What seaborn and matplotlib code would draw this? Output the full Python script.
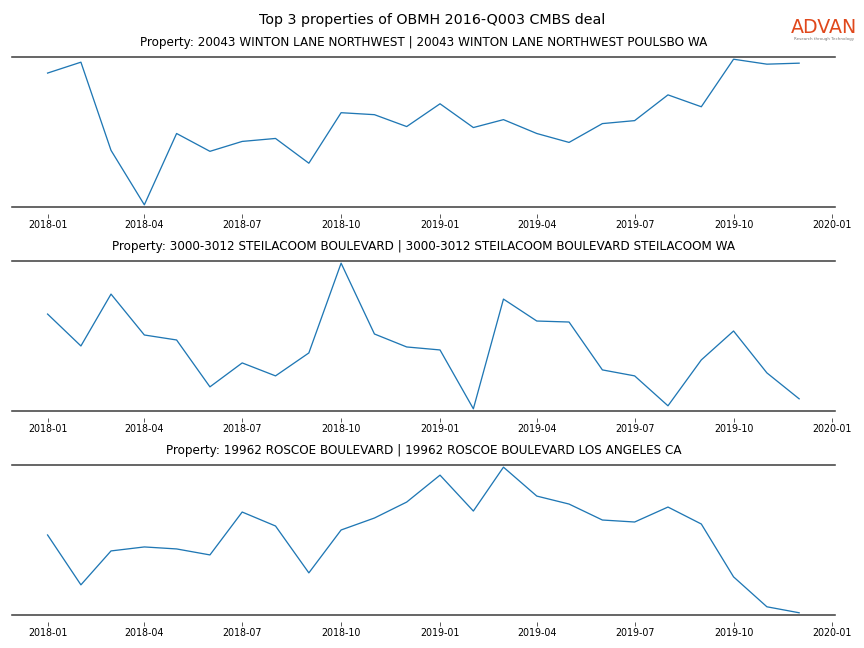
import pandas as pd
import matplotlib
matplotlib.use("Agg")
import matplotlib.pyplot as plt
import matplotlib.dates as mdates
import seaborn as sns

# monthly activity (relative scale)
months = pd.date_range("2018-01-01", periods=24, freq="MS")

titles = [
    "Property: 20043 WINTON LANE NORTHWEST | 20043 WINTON LANE NORTHWEST POULSBO WA",
    "Property: 3000-3012 STEILACOOM BOULEVARD | 3000-3012 STEILACOOM BOULEVARD STEILACOOM WA",
    "Property: 19962 ROSCOE BOULEVARD | 19962 ROSCOE BOULEVARD LOS ANGELES CA",
]

winton = [133, 144, 55, 0, 72, 54, 64, 67, 42, 93, 91, 79,
          102, 78, 86, 72, 63, 82, 85, 111, 99, 147, 142, 143]
steilacoom = [97, 65, 117, 76, 71, 24, 48, 35, 58, 148, 77, 64,
              61, 2, 112, 90, 89, 41, 35, 5, 51, 80, 38, 12]
roscoe = [80, 30, 64, 68, 66, 60, 103, 89, 42, 85, 97, 113,
          140, 104, 148, 119, 111, 95, 93, 108, 91, 38, 8, 2]

series = [winton, steilacoom, roscoe]

fig, axes = plt.subplots(3, 1, figsize=(12, 9), dpi=72)
fig.subplots_adjust(left=0.014, right=0.966, top=0.912, bottom=0.051, hspace=0.36)

for ax, title, vals in zip(axes, titles, series):
    df = pd.DataFrame({"month": months, "value": vals})
    sns.lineplot(data=df, x="month", y="value", ax=ax, color="tab:blue", linewidth=1.3)
    ax.set_title(title, fontsize=12, pad=11)
    ax.set_xlabel("")
    ax.set_ylabel("")
    ax.set_yticks([])
    ax.margins(y=0.015)
    ax.xaxis.set_major_locator(mdates.MonthLocator(bymonth=[1, 4, 7, 10]))
    ax.xaxis.set_major_formatter(mdates.DateFormatter("%Y-%m"))
    ax.set_xlim(pd.Timestamp("2017-11-29"), pd.Timestamp("2020-01-03"))
    for s in ["left", "right", "bottom"]:
        ax.spines[s].set_visible(False)
    ax.spines["top"].set_color("#444444")
    ax.spines["top"].set_linewidth(1.6)
    ax.spines["bottom"].set_position(("outward", 7))
    ax.plot([0, 1], [0, 0], transform=ax.transAxes, color="#444444",
            linewidth=1.6, clip_on=False)
    ax.tick_params(axis="x", labelsize=9.5, length=4, color="#333333", pad=2)

fig.suptitle("Top 3 properties of OBMH 2016-Q003 CMBS deal", fontsize=14.3, y=0.98)

# logo
fig.text(0.954, 0.957, "ADVAN", color="#e0481c", fontsize=19, ha="center", va="center")
fig.text(0.954, 0.940, "Research through Technology", color="#777777", fontsize=4,
         ha="center", va="center")

plt.savefig("out.png", dpi=72)
